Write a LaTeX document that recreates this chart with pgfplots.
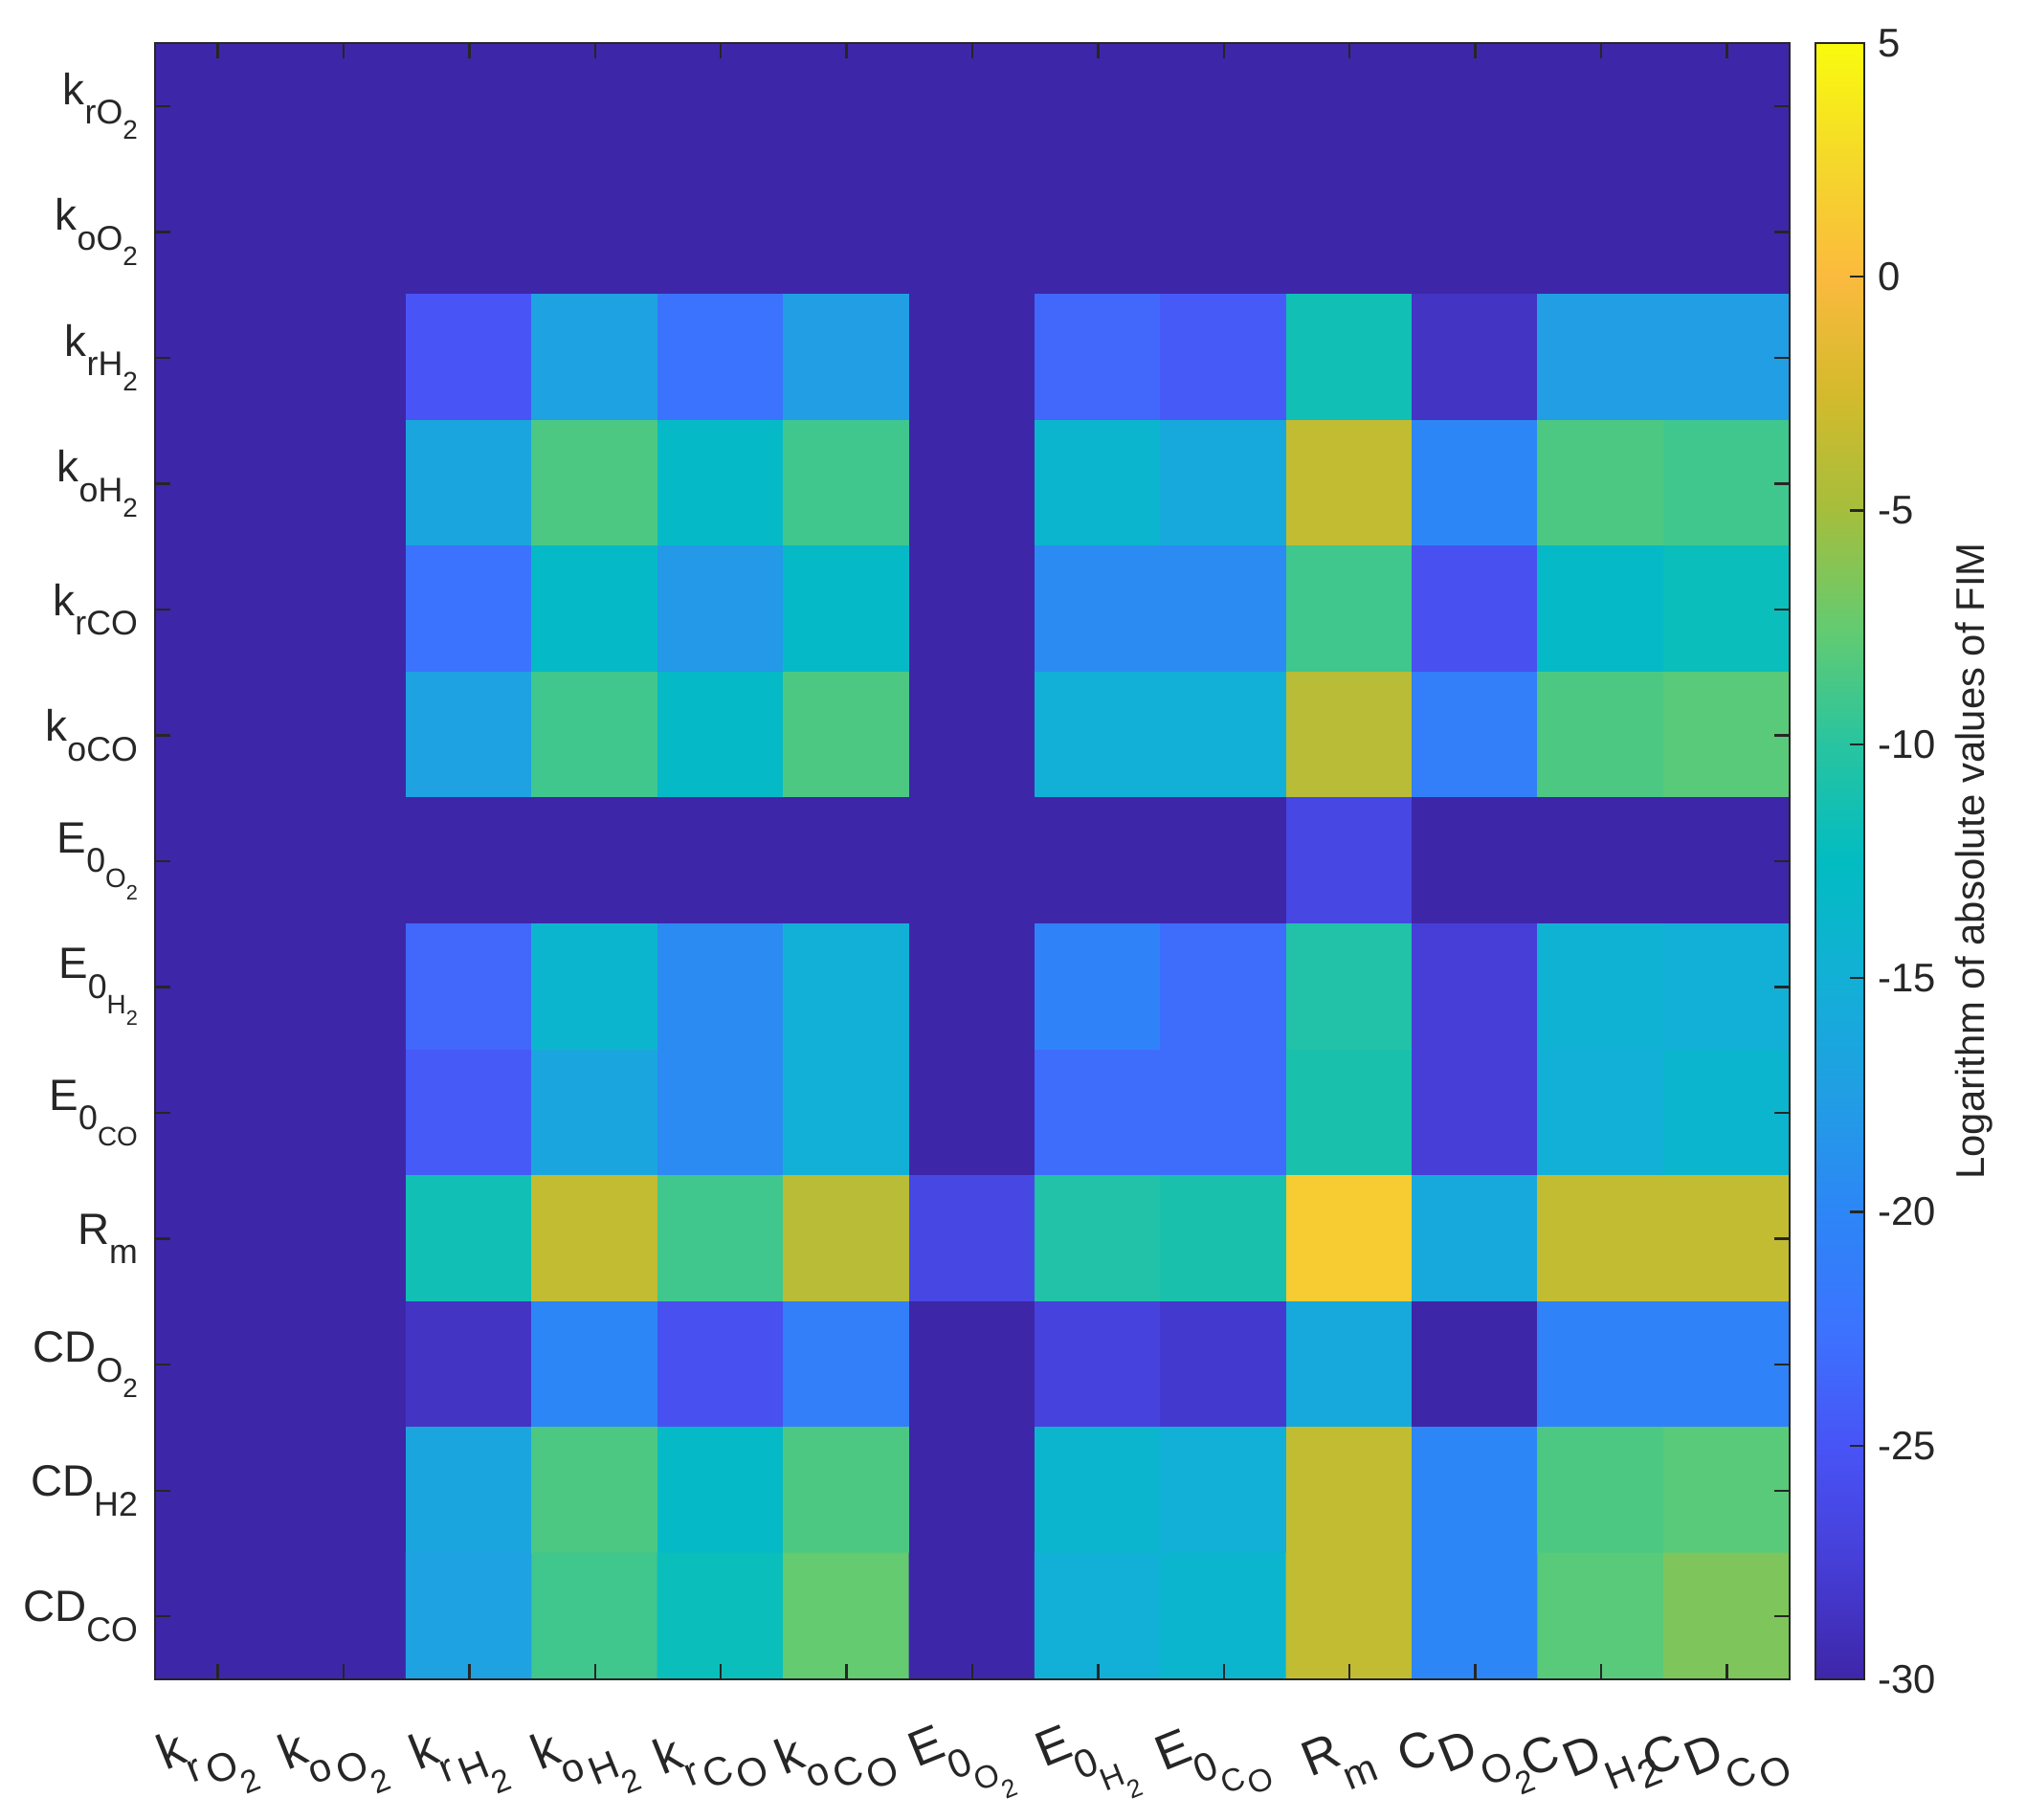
\documentclass[border=0pt]{standalone}
\usepackage{graphicx}
\usepackage{pgfplots}
\pgfplotsset{compat=1.18}
\usepackage{fontspec}
\setmainfont{Liberation Sans}
\definecolor{axisgray}{RGB}{38,38,38}
\newcommand{\sA}[1]{\raisebox{-0.45em}{\scalebox{0.78}{#1}}}
\newcommand{\sX}[1]{\raisebox{-0.28em}{\scalebox{0.8}{#1}}}
\newsavebox\gbox
\newcommand{\g}[1]{\sbox\gbox{#1}\makebox[\dimexpr\wd\gbox+0.12em\relax]{\rotatebox[origin=c]{22}{\usebox\gbox}}}
\pgfplotsset{
  colormap={parula}{
    rgb255=(62,38,168)
    rgb255=(70,62,215)
    rgb255=(72,84,246)
    rgb255=(60,115,254)
    rgb255=(45,134,246)
    rgb255=(33,158,228)
    rgb255=(18,176,214)
    rgb255=(2,188,194)
    rgb255=(40,196,160)
    rgb255=(100,203,112)
    rgb255=(165,190,60)
    rgb255=(212,186,44)
    rgb255=(251,186,62)
    rgb255=(245,216,42)
    rgb255=(249,251,14)
  }
}
\begin{document}
\begin{tikzpicture}
\path[use as bounding box] (-40.5bp,-36.75bp) rectangle (488.75bp,438.75bp);
\begin{axis}[
  at={(0,0)}, anchor=south west,
  width=427bp, height=427.5bp, scale only axis,
  xmin=0.5, xmax=13.5, ymin=0.5, ymax=13.5, y dir=reverse,
  enlargelimits=false, axis on top,
  xtick={1,...,13}, ytick={1,...,13},
  xticklabels={
    \g{k}\sX{\g{r}\g{O}\sX{\g{2}}},
    \g{k}\sX{\g{o}\g{O}\sX{\g{2}}},
    \g{k}\sX{\g{r}\g{H}\sX{\g{2}}},
    \g{k}\sX{\g{o}\g{H}\sX{\g{2}}},
    \g{k}\sX{\g{r}\g{C}\g{O}},
    \g{k}\sX{\g{o}\g{C}\g{O}},
    \g{E}\sX{\g{0}\sX{\g{O}\sX{\g{2}}}},
    \g{E}\sX{\g{0}\sX{\g{H}\sX{\g{2}}}},
    \g{E}\sX{\g{0}\sX{\g{C}\g{O}}},
    \g{R}\sX{\g{m}},
    \g{C}\g{D}\sX{\g{O}\sX{\g{2}}},
    \g{C}\g{D}\sX{\g{H}\g{2}},
    \g{C}\g{D}\sX{\g{C}\g{O}}},
  yticklabels={k\sA{rO\sA{2}}, k\sA{oO\sA{2}}, k\sA{rH\sA{2}}, k\sA{oH\sA{2}}, k\sA{rCO}, k\sA{oCO}, E\sA{0\sA{O\sA{2}}}, E\sA{0\sA{H\sA{2}}}, E\sA{0\sA{CO}}, R\sA{m}, CD\sA{O\sA{2}}, CD\sA{H2}, CD\sA{CO}},
  tick align=inside, major tick length=4bp,
  axis line style={draw=axisgray, line width=0.6bp},
  tick style={draw=axisgray, line width=0.6bp},
  ticklabel style={text=axisgray},
  xticklabel style={font=\fontsize{13}{15}\selectfont, anchor=center, yshift=-21.5bp, xshift=-2.5bp, inner sep=0pt},
  yticklabel style={font=\fontsize{11.5}{14}\selectfont, xshift=-1bp},
  colormap name=parula, point meta min=-30, point meta max=5,
  colorbar,
  colorbar shift/.style={},
  colorbar style={
    at={(parent axis.north east)}, anchor=north west, xshift=6.75bp,
    width=12.75bp,
    ytick={-30,-25,...,5},
    tick align=inside, major tick length=3.75bp,
    ytick pos=right, yticklabel pos=right,
    axis line style={draw=axisgray, line width=0.6bp},
    tick style={draw=axisgray, line width=0.6bp},
    /pgf/number format/assume math mode=true,
    yticklabel style={font=\fontsize{10.5}{12}\selectfont, text=axisgray},
    ylabel={Logarithm of absolute values of FIM},
    ylabel style={font=\fontsize{10.5}{12}\selectfont, text=axisgray, at={(axis description cs:3.25,0.5)}, anchor=center},
  },
]
\addplot[matrix plot*, mesh/cols=13, point meta=explicit] table[meta=c] {
x y c
1 1 -30
2 1 -30
3 1 -30
4 1 -30
5 1 -30
6 1 -30
7 1 -30
8 1 -30
9 1 -30
10 1 -30
11 1 -30
12 1 -30
13 1 -30
1 2 -30
2 2 -30
3 2 -30
4 2 -30
5 2 -30
6 2 -30
7 2 -30
8 2 -30
9 2 -30
10 2 -30
11 2 -30
12 2 -30
13 2 -30
1 3 -30
2 3 -30
3 3 -25
4 3 -17
5 3 -22.5
6 3 -17.5
7 3 -30
8 3 -23.5
9 3 -24.5
10 3 -11.5
11 3 -28.5
12 3 -17.5
13 3 -17.5
1 4 -30
2 4 -30
3 4 -16.5
4 4 -8.5
5 4 -13
6 4 -9
7 4 -30
8 4 -14
9 4 -16
10 4 -3.5
11 4 -20
12 4 -8.5
13 4 -9
1 5 -30
2 5 -30
3 5 -22.5
4 5 -13
5 5 -18
6 5 -13
7 5 -30
8 5 -19.5
9 5 -19.5
10 5 -9
11 5 -25.5
12 5 -13
13 5 -12
1 6 -30
2 6 -30
3 6 -17
4 6 -9
5 6 -13
6 6 -8.5
7 6 -30
8 6 -15
9 6 -15
10 6 -4
11 6 -21
12 6 -8.5
13 6 -8
1 7 -30
2 7 -30
3 7 -30
4 7 -30
5 7 -30
6 7 -30
7 7 -30
8 7 -30
9 7 -30
10 7 -26.5
11 7 -30
12 7 -30
13 7 -30
1 8 -30
2 8 -30
3 8 -23.5
4 8 -14
5 8 -19.5
6 8 -15
7 8 -30
8 8 -20.5
9 8 -23
10 8 -10.5
11 8 -27.5
12 8 -14.5
13 8 -15
1 9 -30
2 9 -30
3 9 -24.5
4 9 -16.5
5 9 -19.5
6 9 -15
7 9 -30
8 9 -23
9 9 -23
10 9 -11
11 9 -27.5
12 9 -15
13 9 -14
1 10 -30
2 10 -30
3 10 -11.5
4 10 -3.5
5 10 -9
6 10 -4
7 10 -26.5
8 10 -10.5
9 10 -11
10 10 1.5
11 10 -16
12 10 -3.5
13 10 -3.5
1 11 -30
2 11 -30
3 11 -28.5
4 11 -20
5 11 -25.5
6 11 -21
7 11 -30
8 11 -27
9 11 -28
10 11 -16
11 11 -30
12 11 -20.5
13 11 -20.5
1 12 -30
2 12 -30
3 12 -16.5
4 12 -8.5
5 12 -13
6 12 -8.5
7 12 -30
8 12 -14
9 12 -15
10 12 -3.5
11 12 -20
12 12 -8.5
13 12 -8
1 13 -30
2 13 -30
3 13 -17
4 13 -9
5 13 -12
6 13 -7.5
7 13 -30
8 13 -15
9 13 -14
10 13 -3.5
11 13 -20
12 13 -8
13 13 -6.5
};
\end{axis}
\end{tikzpicture}
\end{document}
